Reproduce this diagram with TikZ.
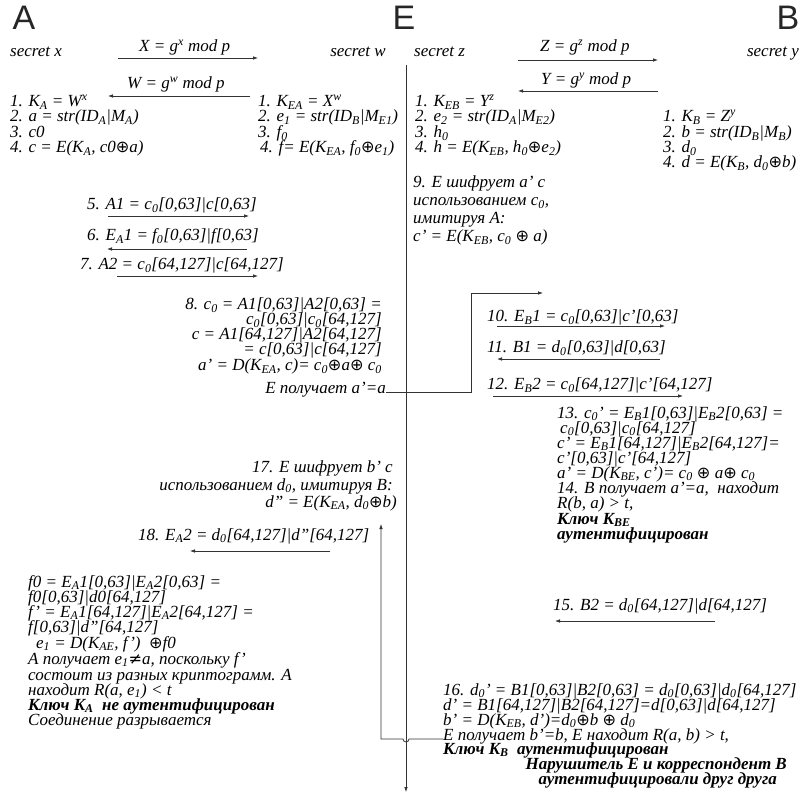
\documentclass[tikz,border=0pt]{standalone}
\usepackage{fontspec}
\setmainfont{Liberation Serif}
\newfontfamily\ttlfont{Liberation Sans}
\newfontfamily\symfont[Scale=0.95]{DejaVu Sans}
\usetikzlibrary{arrows.meta}
\newcommand\lo[1]{\textsubscript{#1}}
\newcommand\hi[1]{\textsuperscript{#1}}
\newcommand\op{{\symfont ⊕}}
\newcommand\nq{{\symfont ≠}}
\tikzset{
  tx/.style={font=\itshape\fontsize{17}{16}\selectfont, inner sep=0pt, text=black},
  tl/.style={tx, anchor=base west},
  tr/.style={tx, anchor=base east},
  ttl/.style={font=\ttlfont\fontsize{34}{34}\selectfont, inner sep=0pt, text=black!85},
  ln/.style={draw=black!80, line width=0.8pt},
  arr/.style={ln, -{Latex[length=5pt,width=3.6pt]}},
}
\begin{document}
\begin{tikzpicture}[x=1pt,y=-1pt]
\useasboundingbox[fill=white] (0,0) rectangle (809,794);
% titles
\node[ttl] (tA) at (24,18) {A};
\node[ttl] (tE) at (404,18) {E};
\node[ttl] (tB) at (788,18) {B};
% secrets
\node[tl] (sx) at (10,57) {secret x};
\node[tr] (sw) at (386,57) {secret w};
\node[tl] (sz) at (414,57) {secret z};
\node[tr] (sy) at (799,57) {secret y};
% key exchange arrows
\node[tl] (lX) at (139,52) {X = g\hi{x} mod p};
\coordinate (xs) at (118,58); \coordinate (xe) at (258,58);
\draw[arr] (xs) -- (xe);
\node[tl] (lW) at (127,89) {W = g\hi{w} mod p};
\coordinate (ws) at (250,96); \coordinate (we) at (108,96);
\draw[arr] (ws) -- (we);
\node[tl] (lZ) at (540,52) {Z = g\hi{z} mod p};
\coordinate (zs) at (518,60); \coordinate (ze) at (658,60);
\draw[arr] (zs) -- (ze);
\node[tl] (lY) at (541,85) {Y = g\hi{y} mod p};
\coordinate (ys) at (658,91); \coordinate (ye) at (518,91);
\draw[arr] (ys) -- (ye);
% A steps
\node[tl] (a1) at (10,107) {1. K\lo{A} = W\hi{x}};
\node[tl] (a2) at (10,122) {2. a = str(ID\lo{A}|M\lo{A})};
\node[tl] (a3) at (10,138) {3. c0};
\node[tl] (a4) at (10,153) {4. c = E(K\lo{A}, c0\op a)};
% E left steps
\node[tl] (e1) at (258,107) {1. K\lo{EA} = X\hi{w}};
\node[tl] (e2) at (258,122) {2. e\lo{1} = str(ID\lo{B}|M\lo{E1})};
\node[tl] (e3) at (258,138) {3. f\lo{0}};
\node[tl] (e4) at (260,153) {4. f= E(K\lo{EA}, f\lo{0}\op e\lo{1})};
% E right steps
\node[tl] (g1) at (415,107) {1. K\lo{EB} = Y\hi{z}};
\node[tl] (g2) at (415,122) {2. e\lo{2} = str(ID\lo{A}|M\lo{E2})};
\node[tl] (g3) at (415,138) {3. h\lo{0}};
\node[tl] (g4) at (415,153) {4. h = E(K\lo{EB}, h\lo{0}\op e\lo{2})};
% B steps
\node[tl] (b1) at (663,122) {1. K\lo{B} = Z\hi{y}};
\node[tl] (b2) at (663,138) {2. b = str(ID\lo{B}|M\lo{B})};
\node[tl] (b3) at (663,153) {3. d\lo{0}};
\node[tl] (b4) at (663,168) {4. d = E(K\lo{B}, d\lo{0}\op b)};
% messages 5-7
\node[tl] (m5) at (87,210) {5. A1 = c\lo{0}[0,63]|c[0,63]};
\coordinate (m5s) at (108,216); \coordinate (m5e) at (249,216);
\draw[arr] (m5s) -- (m5e);
\node[tl] (m6) at (87,241) {6. E\lo{A}1 = f\lo{0}[0,63]|f[0,63]};
\coordinate (m6s) at (247,249); \coordinate (m6e) at (107,249);
\draw[arr] (m6s) -- (m6e);
\node[tl] (m7) at (80,270) {7. A2 = c\lo{0}[64,127]|c[64,127]};
\coordinate (m7s) at (117,276); \coordinate (m7e) at (258,276);
\draw[arr] (m7s) -- (m7e);
% block 8
\node[tr] (p1) at (382,310) {8. c\lo{0} = A1[0,63]|A2[0,63] =};
\node[tr] (p2) at (382,325) {c\lo{0}[0,63]|c\lo{0}[64,127]};
\node[tr] (p3) at (382,340) {c = A1[64,127]|A2[64,127]};
\node[tr] (p4) at (382,355) {= c[0,63]|c[64,127]};
\node[tr] (p5) at (382,371) {a' = D(K\lo{EA}, c)= c\lo{0}\op a\op\ c\lo{0}};
\node[tr] (p6) at (386,394) {E получает a'=a};
% block 9
\node[tl] (q1) at (413,188) {9. E шифрует a' с};
\node[tl] (q2) at (413,206) {использованием c\lo{0},};
\node[tl] (q3) at (413,224) {имитируя A:};
\node[tl] (q4) at (413,242) {c' = E(K\lo{EB}, c\lo{0} \op\ a)};
% messages 10-12
\node[tl] (m10) at (487,322) {10. E\lo{B}1 = c\lo{0}[0,63]|c'[0,63]};
\coordinate (m10s) at (497,326); \coordinate (m10e) at (665,326);
\draw[arr] (m10s) -- (m10e);
\node[tl] (m11) at (487,353) {11. B1 = d\lo{0}[0,63]|d[0,63]};
\coordinate (m11s) at (660,359); \coordinate (m11e) at (497,359);
\draw[arr] (m11s) -- (m11e);
\node[tl] (m12) at (487,390) {12. E\lo{B}2 = c\lo{0}[64,127]|c'[64,127]};
\coordinate (m12s) at (493,396); \coordinate (m12e) at (683,396);
\draw[arr] (m12s) -- (m12e);
% block 13
\node[tl] (r1) at (557,418) {13. c\lo{0}' = E\lo{B}1[0,63]|E\lo{B}2[0,63] =};
\node[tl] (r2) at (560,433) {c\lo{0}[0,63]|c\lo{0}[64,127]};
\node[tl] (r3) at (557,448) {c' = E\lo{B}1[64,127]|E\lo{B}2[64,127]=};
\node[tl] (r4) at (557,463) {c'[0,63]|c'[64,127]};
\node[tl] (r5) at (557,478) {a' = D(K\lo{BE}, c')= c\lo{0} \op\ a\op\ c\lo{0}};
\node[tl] (r6) at (557,493) {14. B получает a'=a, \ находит};
\node[tl] (r7) at (557,508) {R(b, a) > t,};
\node[tl] (r8) at (557,524) {\textbf{Ключ K\lo{BE}}};
\node[tl] (r9) at (557,539) {\textbf{аутентифицирован}};
% message 15
\node[tl] (m15) at (553,610) {15. B2 = d\lo{0}[64,127]|d[64,127]};
\coordinate (m15s) at (715,621); \coordinate (m15e) at (555,621);
\draw[arr] (m15s) -- (m15e);
% block 16
\node[tl] (s1) at (443,695) {16. d\lo{0}' = B1[0,63]|B2[0,63] = d\lo{0}[0,63]|d\lo{0}[64,127]};
\node[tl] (s2) at (443,710) {d' = B1[64,127]|B2[64,127]=d[0,63]|d[64,127]};
\node[tl] (s3) at (443,725) {b' = D(K\lo{EB}, d')=d\lo{0}\op b \op\ d\lo{0}};
\node[tl] (s4) at (443,740) {E получает b'=b, E находит R(a, b) > t,};
\node[tl] (s5) at (443,754) {\textbf{Ключ K\lo{B} \ аутентифицирован}};
\node[tr] (s6) at (787,769) {\textbf{Нарушитель E и корреспондент B}};
\node[tr] (s7) at (777,784) {\textbf{аутентифицировали друг друга}};
% block 17
\node[tr] (u1) at (393,472) {17. E шифрует b' с};
\node[tr] (u2) at (393,490) {использованием d\lo{0}, имитируя B:};
\node[tr] (u3) at (397,507) {d'' = E(K\lo{EA}, d\lo{0}\op b)};
% message 18
\node[tl] (m18) at (138,540) {18. E\lo{A}2 = d\lo{0}[64,127]|d''[64,127]};
\coordinate (m18s) at (330,551); \coordinate (m18e) at (190,551);
\draw[arr] (m18s) -- (m18e);
% block f0
\node[tl] (v1) at (28,587) {f0 = E\lo{A}1[0,63]|E\lo{A}2[0,63] =};
\node[tl] (v2) at (28,602) {f0[0,63]|d0[64,127]};
\node[tl] (v3) at (28,617) {f' = E\lo{A}1[64,127]|E\lo{A}2[64,127] =};
\node[tl] (v4) at (28,632) {f[0,63]|d''[64,127]};
\node[tl] (v5) at (36,648) {e\lo{1} = D(K\lo{AE}, f') \ \op f0};
\node[tl] (v6) at (28,664) {A получает e\lo{1}\nq a, поскольку f'};
\node[tl] (v7) at (28,680) {состоит из разных криптограмм. A};
\node[tl] (v8) at (28,695) {находит R(a, e\lo{1}) < t};
\node[tl] (v9) at (28,710) {\textbf{Ключ K\lo{A} \ не аутентифицирован}};
\node[tl] (v10) at (28,725) {Соединение разрывается};
% E lifeline
\coordinate (lt) at (406,65); \coordinate (lb) at (406,792);
\draw[arr] (lt) -- (lb);
% connector a'=a -> step 10
\coordinate (c1) at (471,392); \coordinate (c2) at (471,293); \coordinate (c3) at (543,293);
\draw[arr] (p6.east |- c1) -- (c1) -- (c2) -- (c3);
% connector b'=b -> step 17
\coordinate (d1) at (409,739); \coordinate (d2) at (381,739); \coordinate (d3) at (381,524);
\draw[arr] (s4.west |- d1) -- (d1) arc (0:180:3) -- (d2) -- (d3);
\end{tikzpicture}
\end{document}
